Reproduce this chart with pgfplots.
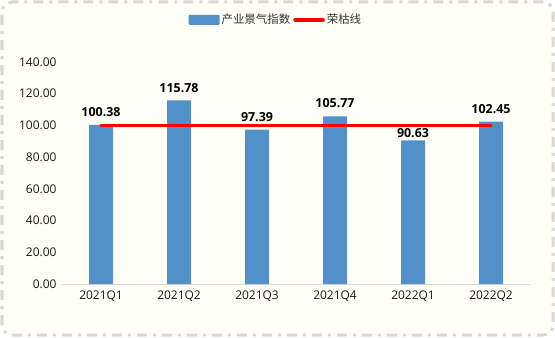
\documentclass[border=0pt]{standalone}
\usepackage{pgfplots}
\usepackage{pgfplotstable}
\pgfplotsset{compat=1.18}
\usepackage{fontspec}
\setmainfont{Open Sans}
\newfontfamily\cjk{Noto Sans CJK SC}
\definecolor{barblue}{HTML}{5190C8}
\definecolor{bgcol}{HTML}{FFFFF7}
\definecolor{bordercol}{HTML}{D9D9CC}
\pgfplotstableread{
x y off
0 100.38 7
1 115.78 7
2 97.39 7
3 105.77 7
4 90.63 1
5 102.45 7
}\bardata
\begin{document}
\begin{tikzpicture}[x=1bp,y=1bp]
\useasboundingbox (0,0) rectangle (555,337);
\fill[bgcol,rounded corners=10bp] (2,2) rectangle (553,335);
\draw[bordercol,line width=3bp,rounded corners=10bp,dash pattern=on 10bp off 6bp on 3bp off 6bp] (2,2) rectangle (553,335);
\begin{axis}[
  at={(62bp,53bp)}, anchor=south west,
  scale only axis, width=468bp, height=222bp,
  xmin=-0.5, xmax=5.5, ymin=0, ymax=140,
  ytick={0,20,...,140},
  xtick=data,
  xticklabels={2021Q1,2021Q2,2021Q3,2021Q4,2022Q1,2022Q2},
  axis x line=bottom, axis y line=left,
  x axis line style={draw=black!15, line width=1bp, -},
  y axis line style={draw=none},
  major tick length=0pt,
  tick label style={font=\fontsize{12}{14}\selectfont, text=black!90},
  /pgf/number format/assume math mode=true,
  yticklabel style={/pgf/number format/fixed, /pgf/number format/fixed zerofill, /pgf/number format/precision=2, xshift=-2bp},
  xticklabel style={yshift=-3bp},
  legend style={at={(axis description cs:0.457,1.19)}, anchor=center, draw=none, fill=none, legend columns=2, font=\cjk\fontsize{11.5}{13}\selectfont, text=black!80, /tikz/every even column/.append style={column sep=1bp}, inner sep=0pt},
  legend cell align=left,
]
\addplot[ybar, bar width=24bp, fill=barblue, draw=none,
  visualization depends on={\thisrow{off} \as \labeloff},
  nodes near coords, nodes near coords align={vertical},
  every node near coord/.append style={font=\bfseries\fontsize{12.5}{14}\selectfont, text=black, yshift=\labeloff bp, inner sep=1bp, /pgf/number format/fixed, /pgf/number format/fixed zerofill, /pgf/number format/precision=2, /pgf/number format/assume math mode=true},
  legend image code/.code={\fill[barblue,rounded corners=1bp] (0bp,-5bp) rectangle (31bp,5bp);}
] table[x=x,y=y] {\bardata};
\addlegendentry{产业景气指数}
\addplot[red, line width=3.5bp, line cap=round, mark=none,
  legend image code/.code={\draw[red,line width=3.5bp,line cap=round] (2bp,0) -- (30bp,0);}
] coordinates {(0,100) (5,100)};
\addlegendentry{荣枯线}
\end{axis}
\end{tikzpicture}
\end{document}
